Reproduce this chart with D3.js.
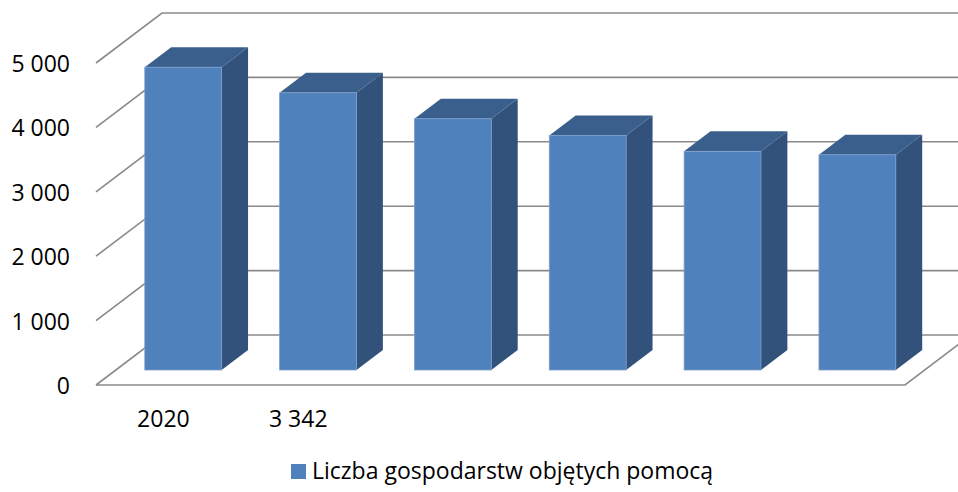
<!DOCTYPE html>
<html>
<head>
<meta charset="utf-8">
<script src="https://cdn.jsdelivr.net/npm/d3@7"></script>
<style>
  body { margin: 0; background: #fff; }
  text { font-family: "Open Sans", sans-serif; fill: #000; }
</style>
</head>
<body>
<svg width="958" height="492"></svg>
<script>
// data
var categories = ["2020", "3 342", "", "", "", ""];
var values = [4702, 4305, 3902, 3643, 3395, 3342];
var yTicks = [0, 1000, 2000, 3000, 4000, 5000];
var seriesName = "Liczba gospodarstw objętych pomocą";

var svg = d3.select("svg");

// oblique 3d: full depth offset of the plot box
var depthX = 66, depthY = 50;
var barFrom = 0.3, barTo = 0.7; // bar position inside the depth

var xScale = d3.scaleBand()
  .domain(d3.range(categories.length))
  .range([96, 905])
  .paddingInner(0.43)
  .paddingOuter(0.215);

var yScale = d3.scaleLinear().domain([0, 5000]).range([385, 63]);

var fmt = function (v) { return d3.format(",")(v).replace(/,/g, " "); };

var left = xScale.range()[0], right = xScale.range()[1];
var grid = svg.append("g")
  .attr("fill", "none")
  .attr("stroke", "#8a8a8a")
  .attr("stroke-width", 1.6);

// gridlines: front-left diagonal then along the back wall
grid.selectAll("polyline")
  .data(yTicks)
  .enter()
  .append("polyline")
  .attr("points", function (d) {
    var y = yScale(d);
    return [[left, y], [left + depthX, y - depthY], [right + depthX, y - depthY]].join(" ");
  });

// floor front edge and right edge
grid.append("polyline")
  .attr("points", [[left, yScale(0)], [right, yScale(0)], [right + depthX, yScale(0) - depthY]].join(" "));

// y labels
svg.append("g").selectAll("text")
  .data(yTicks)
  .enter()
  .append("text")
  .attr("x", 70)
  .attr("y", function (d) { return yScale(d) + 9; })
  .attr("text-anchor", "end")
  .attr("font-size", "23px")
  .text(fmt);

// category labels on the front floor edge
svg.append("g").selectAll("text")
  .data(categories)
  .enter()
  .append("text")
  .attr("x", function (d, i) { return xScale(i) + xScale.bandwidth() / 2; })
  .attr("y", 427)
  .attr("text-anchor", "middle")
  .attr("font-size", "23px")
  .text(function (d) { return d; });

// bars
var fx = barFrom * depthX, fy = barFrom * depthY;
var bx = (barTo - barFrom) * depthX, by = (barTo - barFrom) * depthY;
var bw = xScale.bandwidth();

var bars = svg.append("g").selectAll("g")
  .data(values)
  .enter()
  .append("g");

bars.append("path")
  .attr("fill", "#32527b")
  .attr("d", function (d, i) {
    var x1 = xScale(i) + fx + bw, yb = yScale(0) - fy, yt = yScale(d) - fy;
    return "M" + x1 + "," + yb + "L" + (x1 + bx) + "," + (yb - by) +
      "L" + (x1 + bx) + "," + (yt - by) + "L" + x1 + "," + yt + "Z";
  });

bars.append("path")
  .attr("fill", "#3b5f8c")
  .attr("d", function (d, i) {
    var x0 = xScale(i) + fx, x1 = x0 + bw, yt = yScale(d) - fy;
    return "M" + x0 + "," + yt + "L" + (x0 + bx) + "," + (yt - by) +
      "L" + (x1 + bx) + "," + (yt - by) + "L" + x1 + "," + yt + "Z";
  });

bars.append("rect")
  .attr("x", function (d, i) { return xScale(i) + fx; })
  .attr("y", function (d) { return yScale(d) - fy; })
  .attr("width", bw)
  .attr("height", function (d) { return yScale(0) - yScale(d); })
  .attr("fill", "#4f81bd")
  .attr("stroke", "#7d9fcb")
  .attr("stroke-width", 0.8);

// legend
var legend = svg.append("g").attr("transform", "translate(291,464)");
legend.append("rect")
  .attr("width", 15)
  .attr("height", 15)
  .attr("fill", "#4f81bd");
legend.append("text")
  .attr("x", 21)
  .attr("y", 15)
  .attr("font-size", "23px")
  .text(seriesName);
</script>
</body>
</html>
